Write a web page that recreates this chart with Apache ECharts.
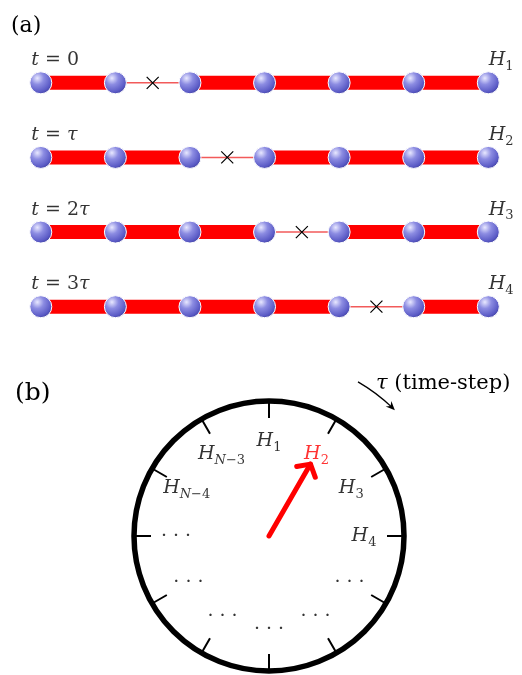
<!DOCTYPE html>
<html>
<head>
<meta charset="utf-8">
<script src="https://cdn.jsdelivr.net/npm/echarts@6/dist/echarts.min.js"></script>
<style>
  html, body { margin: 0; padding: 0; background: #fff; }
  #chart { width: 522px; height: 675px; }
</style>
</head>
<body>
<div id="chart"></div>
<script>
// ---- (a) chain of sites: one weak bond moves one step right per time step ----
const sites = [0, 1, 2, 3, 4, 5, 6];
const timeLabels = ['0', 'τ', '2τ', '3τ'];
const chainHamiltonians = ['H_1', 'H_2', 'H_3', 'H_4'];
const weakBond = [1, 2, 3, 4];          // bond i joins site i and site i+1

// ---- (b) clock of Hamiltonians, one step per tick ----
const clockLabels = ['H_1', 'H_2', 'H_3', 'H_4', '⋯', '⋯', '⋯', '⋯', '⋯', '⋯', 'H_{N-4}', 'H_{N-3}'];
const handStep = 1;                     // the hand points at H_2
const stepArrow = [1, 1.5];             // "τ (time-step)" arrow, in clock steps

const SERIF = "'DejaVu Serif', 'Liberation Serif', serif";
const rows = timeLabels.map((_, r) => r);
const HIDDEN = 'rgba(0,0,0,0)';

// turn "H_{N-3}" into rich-text tokens
function toRich(s) {
  if (s === '⋯') return '{d|· · ·}';
  const m = s.match(/^H_\{?([^}]*)\}?$/);
  const sub = m[1].replace('-', '−');
  const parts = sub.match(/[A-Za-z]+|[^A-Za-z]+/g);
  return '{h|H}' + parts.map(p => /[A-Za-z]/.test(p) ? '{si|' + p + '}' : '{s|' + p + '}').join('');
}
function hRich(color) {
  const base = { fontFamily: SERIF, color, textBorderWidth: 0 };
  return {
    h: { ...base, fontStyle: 'italic', fontSize: 19, lineHeight: 26 },
    si: { ...base, fontStyle: 'italic', fontSize: 13, lineHeight: 16, verticalAlign: 'bottom' },
    s: { ...base, fontSize: 13, lineHeight: 16, verticalAlign: 'bottom' },
    d: { ...base, fontSize: 19, lineHeight: 26 }
  };
}
function timeRich(s) {
  return '{i|t}{n| = }' + s.split('').map(ch => ch === 'τ' ? '{i|τ}' : '{n|' + ch + '}').join('');
}

const spheres = rows.flatMap(r => sites.map(s => [s, r]));
const bonds = rows.flatMap(r => sites.slice(0, -1).map(i => [i, r, i === weakBond[r] ? 0 : 1]));
const crosses = weakBond.map((b, r) => [b + 0.5, r]);

const sphereColor = {
  type: 'radial', x: 0.35, y: 0.3, r: 0.8,
  colorStops: [
    { offset: 0, color: '#e8e8ff' },
    { offset: 0.35, color: '#8c8ce2' },
    { offset: 0.75, color: '#5b5bc6' },
    { offset: 1, color: '#383894' }
  ]
};

function renderBond(params, api) {
  const i = api.value(0), r = api.value(1), strong = api.value(2);
  const p0 = api.coord([i, r]);
  const p1 = api.coord([i + 1, r]);
  if (strong) {
    return { type: 'rect', shape: { x: p0[0], y: p0[1] - 7, width: p1[0] - p0[0], height: 14 },
             style: { fill: '#ff0000' } };
  }
  return { type: 'line', shape: { x1: p0[0], y1: p0[1], x2: p1[0], y2: p1[1] },
           style: { stroke: '#f25a5a', lineWidth: 1.5 } };
}

// red clock hand with an open arrow head
function renderHand(params, api) {
  const a = api.value(1);
  const p0 = api.coord([api.value(0), a]);
  const p1 = api.coord([api.value(2), a]);
  const dx = p1[0] - p0[0], dy = p1[1] - p0[1];
  const len = Math.hypot(dx, dy), ux = -dx / len, uy = -dy / len;
  const t = 50 * Math.PI / 180, head = 14;
  const b1 = [p1[0] + head * (ux * Math.cos(t) - uy * Math.sin(t)), p1[1] + head * (ux * Math.sin(t) + uy * Math.cos(t))];
  const b2 = [p1[0] + head * (ux * Math.cos(-t) - uy * Math.sin(-t)), p1[1] + head * (ux * Math.sin(-t) + uy * Math.cos(-t))];
  return { type: 'group', children: [
    { type: 'line', shape: { x1: p0[0], y1: p0[1], x2: p1[0], y2: p1[1] },
      style: { stroke: '#ff0000', lineWidth: 5, lineCap: 'round' } },
    { type: 'polyline', shape: { points: [b1, p1, b2] },
      style: { stroke: '#ff0000', lineWidth: 5, lineCap: 'round', lineJoin: 'round', fill: null } }
  ] };
}

// curved "time-step" arrow outside the clock
function renderStepArrow(params, api) {
  const rad = api.value(0);
  const c = api.coord([0, 0]);
  const ps = api.coord([rad, api.value(1)]);
  const pe = api.coord([rad, api.value(2)]);
  const R = Math.hypot(ps[0] - c[0], ps[1] - c[1]);
  const a0 = Math.atan2(ps[1] - c[1], ps[0] - c[0]);
  const a1 = Math.atan2(pe[1] - c[1], pe[0] - c[0]);
  const tx = Math.cos(a1 + Math.PI / 2), ty = Math.sin(a1 + Math.PI / 2);
  const nx = -ty, ny = tx;
  const tip = pe;
  const back = 9, wing = 4;
  const poly = [
    tip,
    [tip[0] - tx * back + nx * wing, tip[1] - ty * back + ny * wing],
    [tip[0] - tx * 6, tip[1] - ty * 6],
    [tip[0] - tx * back - nx * wing, tip[1] - ty * back - ny * wing]
  ];
  return { type: 'group', children: [
    { type: 'arc', shape: { cx: c[0], cy: c[1], r: R, startAngle: a0, endAngle: a1 - 0.02, clockwise: true },
      style: { stroke: '#000', lineWidth: 1.3, fill: null } },
    { type: 'polygon', shape: { points: poly }, style: { fill: '#000' } }
  ] };
}

const chart = echarts.init(document.getElementById('chart'), null, { renderer: 'canvas' });

const textBase = { fontFamily: SERIF, color: '#000', textBorderWidth: 0 };

const option = {
  backgroundColor: '#fff',
  animation: false,
  title: [
    { text: '(a)', left: 6, top: 10, textStyle: { ...textBase, fontSize: 22, fontWeight: 'normal' } },
    { text: '(b)', left: 10, top: 376, textStyle: { ...textBase, fontSize: 25, fontWeight: 'normal' } },
    { text: '{i|τ} (time-step)', left: 371, top: 368,
      textStyle: { ...textBase, fontSize: 21, fontWeight: 'normal',
                   rich: { i: { ...textBase, fontStyle: 'italic', fontSize: 21 } } } }
  ],
  grid: { left: 40.8, right: 33.7, top: 82.8, bottom: 368.3 },
  xAxis: { type: 'value', min: 0, max: 6, show: false },
  yAxis: { type: 'value', min: 0, max: 3, inverse: true, show: false },
  polar: { center: [269, 536], radius: 135 },
  angleAxis: {
    type: 'value', min: 0, max: 12, interval: 1, startAngle: 90, clockwise: true,
    axisLine: { show: true, lineStyle: { color: '#000', width: 5.5 } },
    axisTick: { show: true, inside: true, length: 17, lineStyle: { color: '#000', width: 2 } },
    axisLabel: { show: false },
    splitLine: { show: false }
  },
  radiusAxis: {
    type: 'value', min: 0, max: 135,
    axisLine: { show: false }, axisTick: { show: false }, axisLabel: { show: false }, splitLine: { show: false }
  },
  series: [
    { type: 'custom', coordinateSystem: 'cartesian2d', renderItem: renderBond, data: bonds, z: 1, silent: true },
    { type: 'scatter', coordinateSystem: 'cartesian2d', data: crosses, clip: false, z: 2, silent: true,
      symbol: 'path://M0,0L10,10M10,0L0,10', symbolSize: 12,
      itemStyle: { color: HIDDEN, borderColor: '#000', borderWidth: 1.2, opacity: 1 } },
    { type: 'scatter', coordinateSystem: 'cartesian2d', data: spheres, clip: false, z: 3, silent: true,
      symbol: 'circle', symbolSize: 22,
      itemStyle: { color: sphereColor, borderColor: '#fff', borderWidth: 1, opacity: 1 } },
    { type: 'scatter', coordinateSystem: 'cartesian2d', clip: false, z: 4, silent: true,
      data: rows.map(r => [0, r]), symbolSize: 1, itemStyle: { color: HIDDEN },
      label: { show: true, position: [-9, -22], align: 'left', verticalAlign: 'middle', ...textBase,
               formatter: p => timeRich(timeLabels[p.dataIndex]),
               rich: { i: { ...textBase, fontStyle: 'italic', fontSize: 19 },
                       n: { ...textBase, fontSize: 19 } } } },
    { type: 'scatter', coordinateSystem: 'cartesian2d', clip: false, z: 4, silent: true,
      data: rows.map(r => [sites[sites.length - 1], r]), symbolSize: 1, itemStyle: { color: HIDDEN },
      label: { show: true, position: [1, -22], align: 'left', verticalAlign: 'middle', ...textBase,
               formatter: p => toRich(chainHamiltonians[p.dataIndex]), rich: hRich('#000') } },
    // clock face labels
    { type: 'scatter', coordinateSystem: 'polar', silent: true, z: 4,
      data: clockLabels.map((s, i) => ({
        value: [s === '⋯' ? 93 : 95, i],
        label: { rich: hRich(i === handStep ? '#ff0000' : '#000') }
      })),
      symbolSize: 1, itemStyle: { color: HIDDEN },
      label: { show: true, position: 'inside', align: 'center', verticalAlign: 'middle', ...textBase,
               formatter: p => toRich(clockLabels[p.dataIndex]), rich: hRich('#000') } },
    { type: 'custom', coordinateSystem: 'polar', renderItem: renderHand, silent: true, z: 5,
      data: [[0, handStep, 83]] },
    { type: 'custom', coordinateSystem: 'polar', renderItem: renderStepArrow, silent: true, z: 5,
      data: [[178, stepArrow[0], stepArrow[1]]] }
  ]
};

chart.setOption(option);
</script>
</body>
</html>
